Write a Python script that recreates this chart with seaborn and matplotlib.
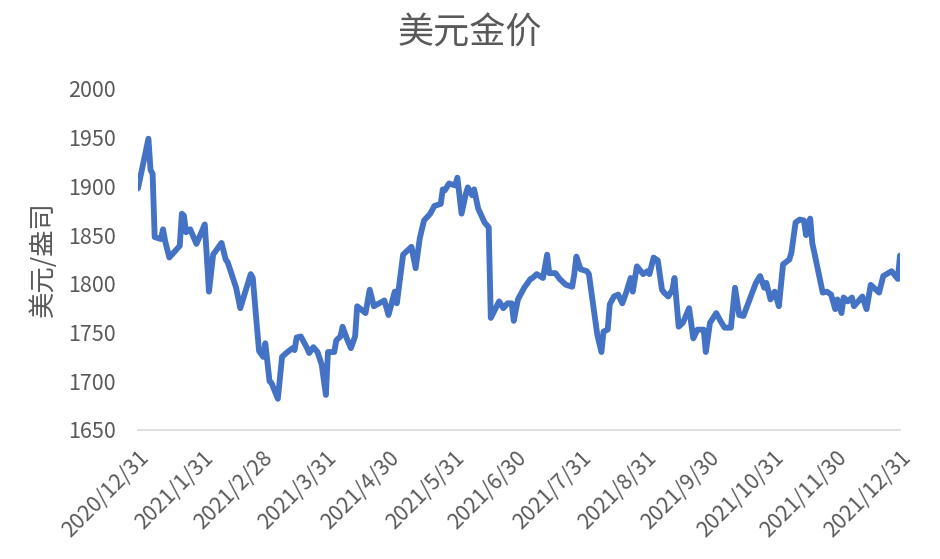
import pandas as pd
import matplotlib
matplotlib.use('Agg')
import matplotlib.pyplot as plt
import seaborn as sns

# days after 2020/12/31 and the gold price (USD/oz)
day_offsets = [0, 5, 6, 7, 8, 11, 12, 13, 15, 20, 21, 22, 23, 25, 28, 32, 34, 36, 40, 42,
               43, 47, 49, 54, 55, 57, 58, 60, 61, 63, 64, 67, 69, 71, 74, 75, 76, 78, 79, 81,
               82, 84, 86, 88, 90, 91, 94, 95, 97, 98, 100, 102, 104, 105, 109, 111, 113, 118, 120, 123,
               124, 127, 131, 133, 135, 137, 140, 142, 145, 146, 147, 149, 152, 153, 155, 157, 158, 160, 161, 163,
               166, 168, 169, 173, 175, 177, 179, 180, 182, 185, 188, 189, 191, 194, 196, 197, 200, 202, 205, 208,
               209, 210, 212, 215, 216, 219, 220, 222, 223, 225, 226, 228, 230, 232, 234, 236, 237, 239, 242, 244,
               245, 247, 249, 251, 252, 254, 256, 257, 259, 261, 264, 266, 268, 271, 272, 274, 277, 279, 281, 284,
               286, 288, 290, 293, 296, 298, 300, 301, 303, 305, 307, 309, 312, 313, 315, 317, 319, 320, 322, 323,
               328, 330, 332, 334, 335, 337, 338, 340, 342, 343, 347, 349, 351, 355, 357, 361, 364, 365]
prices = [1898, 1949, 1917, 1913, 1848, 1846, 1856, 1844, 1827, 1839, 1872, 1870, 1853, 1856, 1841, 1861, 1792, 1830, 1842, 1825,
          1822, 1796, 1775, 1810, 1806, 1755, 1731, 1725, 1739, 1700, 1698, 1682, 1725, 1729, 1734, 1732, 1745, 1746, 1742, 1734,
          1729, 1735, 1730, 1717, 1686, 1730, 1730, 1742, 1746, 1756, 1744, 1734, 1746, 1777, 1770, 1794, 1777, 1783, 1768, 1792,
          1780, 1830, 1838, 1816, 1847, 1865, 1872, 1880, 1882, 1897, 1896, 1903, 1901, 1909, 1872, 1892, 1899, 1891, 1897, 1877,
          1863, 1858, 1765, 1782, 1775, 1780, 1780, 1762, 1784, 1796, 1805, 1806, 1810, 1806, 1830, 1811, 1811, 1805, 1799, 1797,
          1810, 1828, 1815, 1813, 1810, 1763, 1748, 1730, 1751, 1753, 1779, 1787, 1789, 1780, 1792, 1806, 1792, 1818, 1810, 1813,
          1810, 1827, 1824, 1794, 1791, 1787, 1794, 1806, 1756, 1760, 1775, 1744, 1753, 1753, 1730, 1760, 1770, 1762, 1755, 1755,
          1796, 1768, 1767, 1784, 1801, 1808, 1796, 1801, 1784, 1792, 1777, 1820, 1825, 1832, 1863, 1866, 1865, 1850, 1867, 1842,
          1791, 1792, 1789, 1774, 1784, 1770, 1786, 1782, 1786, 1777, 1787, 1774, 1799, 1791, 1808, 1813, 1805, 1829]

y_ticks = [1650, 1700, 1750, 1800, 1850, 1900, 1950, 2000]

start = pd.Timestamp('2020-12-31')
df = pd.DataFrame({'date': start + pd.to_timedelta(day_offsets, unit='D'), 'price': prices})
month_ends = pd.date_range('2020-12-31', '2021-12-31', freq='ME')
x_labels = [f'{d.year}/{d.month}/{d.day}' for d in month_ends]

sns.set_style('white')
plt.rcParams['font.family'] = ['Noto Sans CJK SC', 'DejaVu Sans']

grey = '#595959'
fig = plt.figure(figsize=(9.4, 5.59), dpi=100)
ax = fig.add_axes([0.1468, 0.2308, 0.8106, 0.61])

sns.lineplot(data=df, x='date', y='price', ax=ax, color='#4472C4', linewidth=4.2,
             solid_joinstyle='round', solid_capstyle='round')

ax.set_xlim(month_ends[0], month_ends[-1])
ax.set_ylim(1650, 2000)
ax.set_yticks(y_ticks)
ax.set_xticks(month_ends)
ax.set_xticklabels(x_labels, rotation=45, ha='right', rotation_mode='anchor')
ax.tick_params(axis='y', length=0, pad=16, labelsize=15.5, labelcolor=grey)
ax.tick_params(axis='x', length=6, width=1, color='#D9D9D9', direction='out', pad=6,
               labelsize=15.5, labelcolor=grey)

for s in ['left', 'right', 'top']:
    ax.spines[s].set_visible(False)
ax.spines['bottom'].set_color('#D9D9D9')
ax.spines['bottom'].set_linewidth(1.2)

ax.set_xlabel('')
ax.set_ylabel('美元/盎司', fontsize=19, color=grey, labelpad=8)
fig.suptitle('美元金价', fontsize=26, color=grey, y=1 - 33 / 559, va='center')

plt.savefig('out.png', dpi=100)
plt.close()
